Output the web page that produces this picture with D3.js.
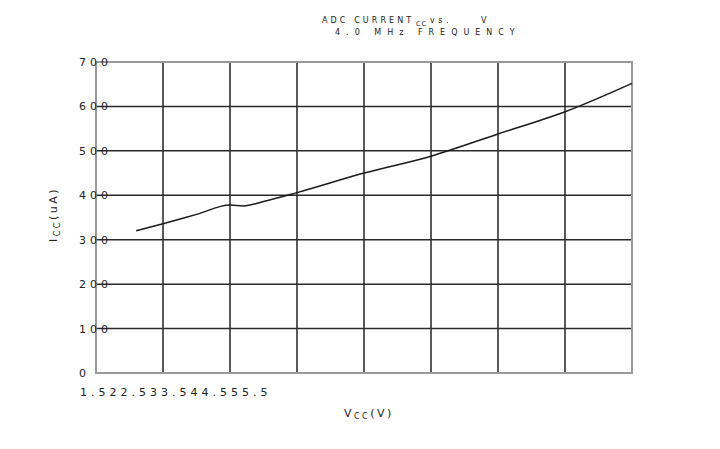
<!DOCTYPE html>
<html>
<head>
<meta charset="utf-8">
<script src="https://cdn.jsdelivr.net/npm/d3@7"></script>
<style>
  body { margin: 0; background: #fff; }
  text { font-family: "DejaVu Sans", Verdana, sans-serif; fill: #222; }
</style>
</head>
<body>
<div id="chart"></div>
<script>
// supply voltage (V) and supply current (uA)
var vcc = [1.8, 2.0, 2.25, 2.5, 2.6, 2.75, 3.0, 3.5, 4.0, 4.5, 5.0, 5.5];
var icc = [320, 336, 357, 378, 376, 386, 406, 450, 488, 538, 588, 652];

var xTicks = [1.5, 2, 2.5, 3, 3.5, 4, 4.5, 5, 5.5];
var yTicks = [0, 100, 200, 300, 400, 500, 600, 700];

var width = 720, height = 449;
var margin = { top: 62, right: 88, bottom: 76, left: 96 };
var w = width - margin.left - margin.right,
    h = height - margin.top - margin.bottom;

var svg = d3.select("#chart").append("svg")
  .attr("width", width)
  .attr("height", height);

var g = svg.append("g")
  .attr("transform", "translate(" + margin.left + "," + margin.top + ")");

var x = d3.scaleLinear().domain([1.5, 5.5]).range([0, w]);
var y = d3.scaleLinear().domain([0, 700]).range([h, 0]);

// vertical grid
g.selectAll(".vgrid")
  .data(xTicks.slice(1, -1))
  .enter().append("line")
  .attr("x1", d => x(d)).attr("x2", d => x(d))
  .attr("y1", 0).attr("y2", h)
  .attr("stroke", "#5a5a5a")
  .attr("stroke-width", 2);

// horizontal grid
g.selectAll(".hgrid")
  .data(yTicks.slice(1))
  .enter().append("line")
  .attr("x1", 0).attr("x2", w)
  .attr("y1", d => y(d)).attr("y2", d => y(d))
  .attr("stroke", "#2a2a2a")
  .attr("stroke-width", 1.5);

// frame
g.append("rect")
  .attr("x", 0).attr("y", 0)
  .attr("width", w).attr("height", h)
  .attr("fill", "none")
  .attr("stroke", "#999")
  .attr("stroke-width", 2);

// y tick labels
g.selectAll(".ylab")
  .data(yTicks)
  .enter().append("text")
  .attr("x", -17)
  .attr("y", d => y(d) + 4)
  .attr("font-size", 11)
  .attr("letter-spacing", 4)
  .text(d => d);

// x tick labels, run together as in the original
var xt = g.append("text")
  .attr("x", -16)
  .attr("y", h + 23)
  .attr("font-size", 11)
  .attr("letter-spacing", 4);
xt.selectAll("tspan")
  .data(xTicks)
  .enter().append("tspan")
  .text(d => d);

// curve
var line = d3.line()
  .x((d, i) => x(vcc[i]))
  .y(d => y(d))
  .curve(d3.curveMonotoneX);

g.append("path")
  .datum(icc)
  .attr("d", line)
  .attr("fill", "none")
  .attr("stroke", "#1a1a1a")
  .attr("stroke-width", 1.5);

// titles
svg.append("text")
  .attr("x", 322).attr("y", 23)
  .attr("font-size", 8)
  .attr("letter-spacing", 3.1)
  .text("ADC CURRENT");
svg.append("text")
  .attr("x", 416).attr("y", 26)
  .attr("font-size", 6.5)
  .attr("letter-spacing", 1)
  .text("CC");
svg.append("text")
  .attr("x", 430).attr("y", 23)
  .attr("font-size", 8)
  .attr("letter-spacing", 3.5)
  .text("vs.");
svg.append("text")
  .attr("x", 481).attr("y", 23)
  .attr("font-size", 8)
  .text("V");
svg.append("text")
  .attr("x", 335).attr("y", 35)
  .attr("font-size", 8)
  .attr("letter-spacing", 6)
  .text("4.0 MHz FREQUENCY");

// y axis title
var yl = svg.append("text")
  .attr("transform", "translate(57,242) rotate(-90)")
  .attr("font-size", 11)
  .attr("letter-spacing", 2.5);
yl.append("tspan").text("I");
yl.append("tspan").attr("font-size", 8).attr("dy", 3).text("CC");
yl.append("tspan").attr("dy", -3).text("(uA)");

// x axis title
var xl = svg.append("text")
  .attr("x", 344).attr("y", 417)
  .attr("font-size", 11)
  .attr("letter-spacing", 2.5);
xl.append("tspan").text("V");
xl.append("tspan").attr("font-size", 8).attr("dy", 2).text("CC");
xl.append("tspan").attr("dy", -2).text("(V)");
</script>
</body>
</html>
